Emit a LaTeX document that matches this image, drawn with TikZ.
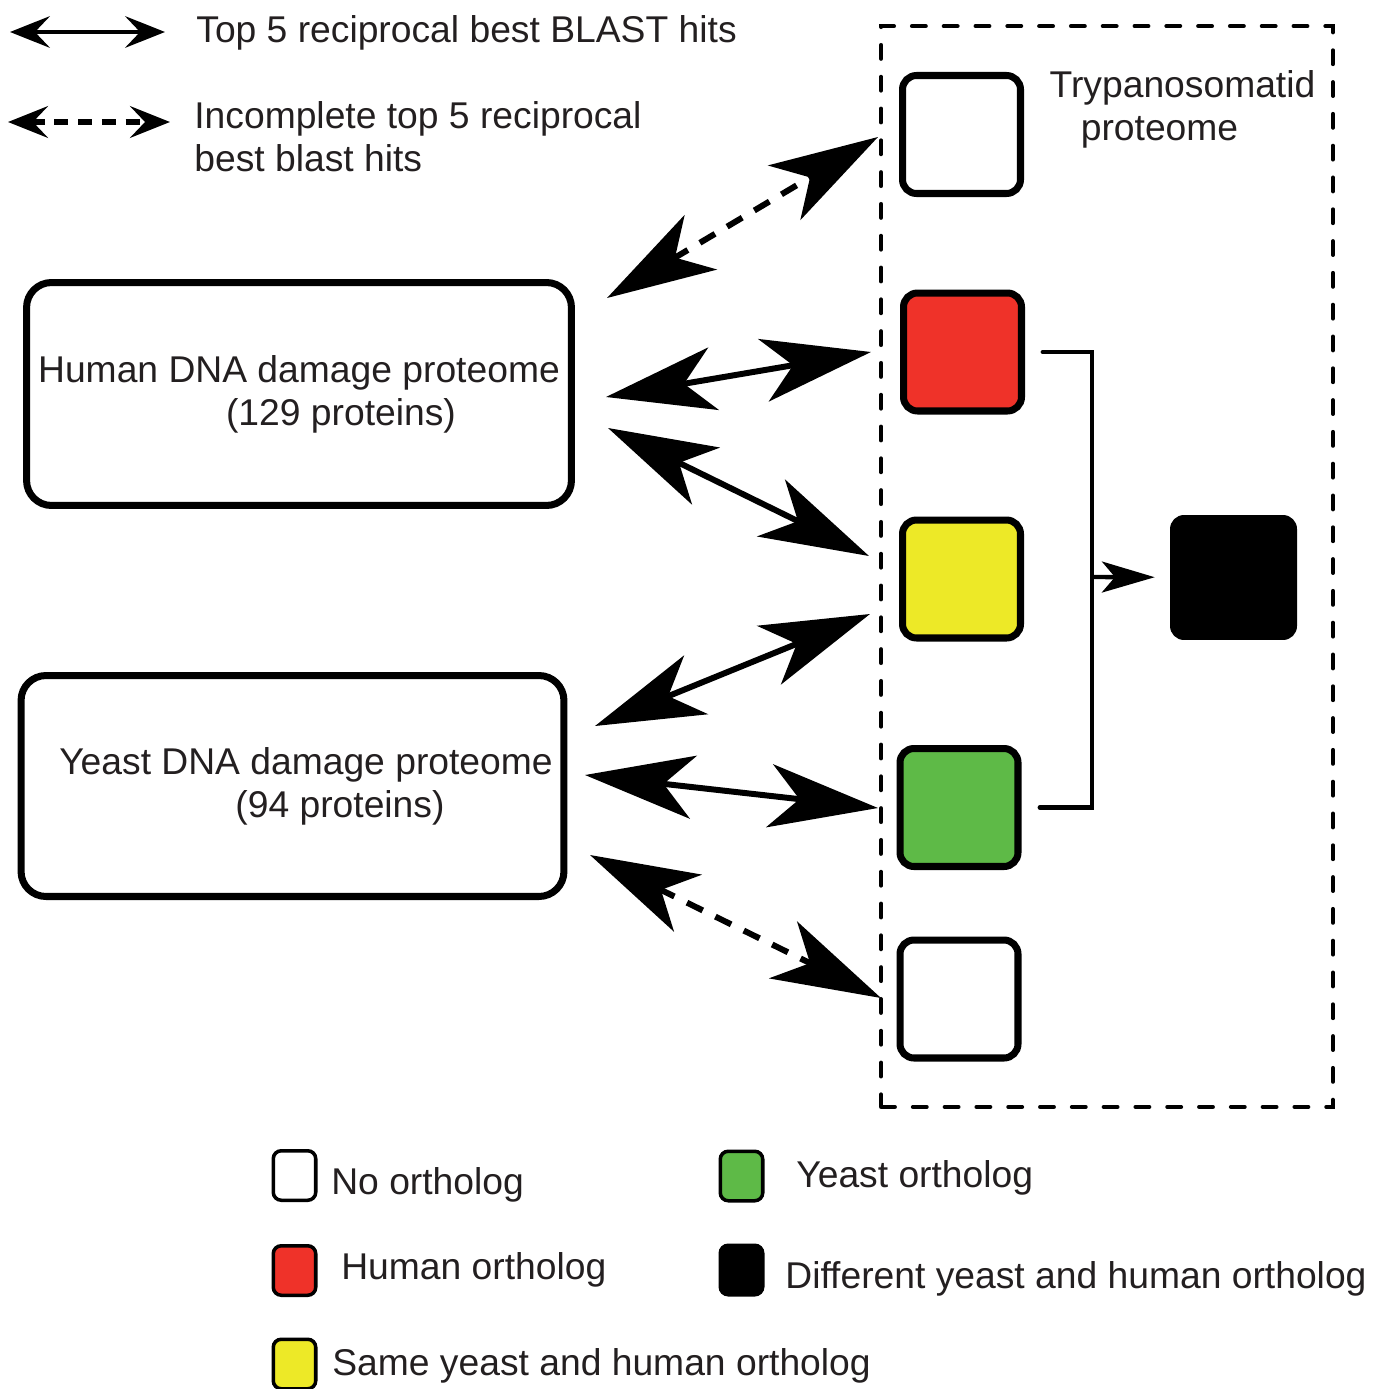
\documentclass[tikz,border=0pt]{standalone}
\usepackage{fontspec}
\setmainfont{Liberation Sans}
\usetikzlibrary{arrows.meta}
\definecolor{ink}{RGB}{35,31,32}
\definecolor{humanred}{RGB}{239,50,41}
\definecolor{sameyellow}{RGB}{237,233,39}
\definecolor{yeastgreen}{RGB}{94,186,71}
\tikzset{
  orth/.style={draw, line width=4pt, rounded corners=0.28cm, minimum size=2.36cm, inner sep=0pt},
  key/.style={draw, line width=2pt, rounded corners=0.16cm, minimum width=0.85cm, minimum height=0.99cm, inner sep=0pt},
  proteome/.style={draw, line width=4pt, rounded corners=0.5cm, align=center, inner sep=0pt},
  hit/.style={line width=3.4pt, >={Stealth[length=62pt,width=36pt,inset=17pt]}, <->},
  partial/.style={hit, dash pattern=on 10pt off 8pt},
  keyhit/.style={line width=2.3pt, >={Stealth[length=22.7pt,width=18pt,inset=8.5pt]}, <->},
  txt/.style={inner sep=0pt},
}
\begin{document}
\begin{tikzpicture}[x=0.02cm, y=-0.02cm, font=\fontsize{21.2pt}{24.4pt}\selectfont, text=ink]
	\useasboundingbox (0,0) rectangle (1386,1389);
	% arrow key
	\coordinate (k1l) at (10,32); \coordinate (k1r) at (165,32);
	\coordinate (k2l) at (8,122); \coordinate (k2r) at (170,122);
	\draw[keyhit] (k1l) -- (k1r);
	\draw[keyhit, line width=3pt, dash pattern=on 8pt off 5.5pt] (k2l) -- (k2r);
	\node[txt, anchor=base west] (k1t) at (196,43) {Top 5 reciprocal best BLAST hits};
	\node[txt, anchor=north west, align=left] (k2t) at (194,101) {Incomplete top 5 reciprocal\\best blast hits};
	% trypanosomatid side
	\node[draw, line width=2.27pt, dash pattern=on 7.9pt off 10.2pt, line cap=round, minimum width=9.04cm, minimum height=21.62cm] (trypano) at (1107,566.5) {};
	\node[txt, anchor=north, align=center] (tlabel) at (1182.5,70) {Trypanosomatid\\proteome\hspace*{0.92cm}};
	\node[orth] (none1) at (961.5,134.5) {};
	\node[orth, fill=humanred] (human1) at (962.5,352) {};
	\node[orth, fill=sameyellow] (same1) at (961.5,579) {};
	\node[orth, fill=yeastgreen] (yeast1) at (959,807.5) {};
	\node[orth] (none2) at (959,999) {};
	\node[fill, rounded corners=0.28cm, minimum width=2.54cm, minimum height=2.5cm, inner sep=0pt] (diff1) at (1233.5,577.5) {};
	% query proteomes
	\node[proteome, minimum width=10.9cm, minimum height=4.46cm] (human) at (299,394) {Human DNA damage proteome\\\hspace*{1.68cm}(129 proteins)};
	\node[proteome, minimum width=10.86cm, minimum height=4.42cm] (yeast) at (292.5,786) {\hspace*{0.54cm}Yeast DNA damage proteome\\\hspace*{1.9cm}(94 proteins)};
	% blast hits
	\coordinate (h1) at (607,298); \coordinate (t1) at (878,137);
	\coordinate (h2) at (606,397); \coordinate (t2) at (871,352);
	\coordinate (h3) at (608,428); \coordinate (t3) at (869,556);
	\coordinate (y1) at (595,726); \coordinate (t4) at (870,614);
	\coordinate (y2) at (585,775); \coordinate (t5) at (878,808);
	\coordinate (y3) at (590,855); \coordinate (t6) at (881,998);
	\draw[partial] (h1) -- (t1);
	\draw[hit] (h2) -- (t2);
	\draw[hit] (h3) -- (t3);
	\draw[hit] (y1) -- (t4);
	\draw[hit] (y2) -- (t5);
	\draw[partial] (y3) -- (t6);
	% human and yeast orthologs merge
	\coordinate (merge) at (1092,577);
	\draw[line width=2.8pt, line cap=round] ([xshift=0.36cm]human1.east) -| (merge) |- ([xshift=0.37cm]yeast1.east);
	\draw[line width=2.5pt, -{Stealth[length=30pt,width=17.6pt,inset=7.4pt]}, shorten >=0.3cm] (merge) -- (diff1);
	% colour key
	\node[key] (knone) at (294.5,1175.5) {};
	\node[txt, anchor=base west] (knonet) at (331,1194) {No ortholog};
	\node[key, fill=humanred] (khuman) at (294.5,1270.5) {};
	\node[txt, anchor=base west] (khumant) at (341,1279) {Human ortholog};
	\node[key, fill=sameyellow] (ksame) at (294.5,1364) {};
	\node[txt, anchor=base west] (ksamet) at (332,1375) {Same yeast and human ortholog};
	\node[key, fill=yeastgreen] (kyeast) at (741.5,1176) {};
	\node[txt, anchor=base west] (kyeastt) at (796,1187) {Yeast ortholog};
	\node[key, fill] (kdiff) at (741.5,1270) {};
	\node[txt, anchor=base west] (kdifft) at (785,1288) {Different yeast and human ortholog};
\end{tikzpicture}
\end{document}
